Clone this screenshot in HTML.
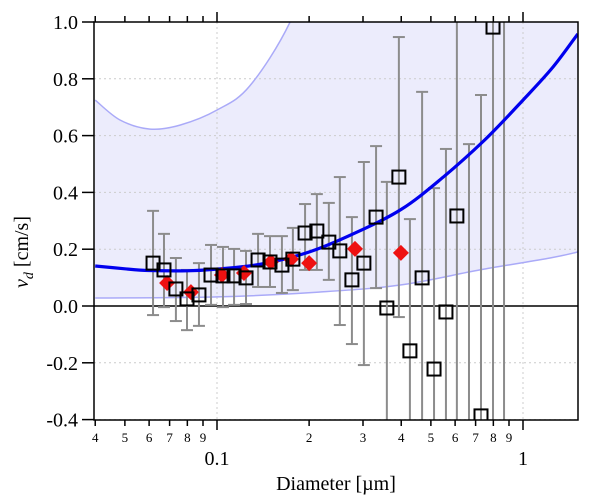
<!DOCTYPE html>
<html><head><meta charset="utf-8"><style>
html,body{margin:0;padding:0;background:#fff;}
svg{display:block;font-family:"Liberation Serif",serif;}
</style></head><body>
<svg id="chart" width="600" height="501" viewBox="0 0 600 501" xmlns="http://www.w3.org/2000/svg">
<defs><clipPath id="clip"><rect x="94" y="22" width="484" height="398"/></clipPath></defs>
<g id="plot" clip-path="url(#clip)"></g>
<g id="axes" font-family="Liberation Serif, serif"></g>
</svg>
<script>
// ---- data ----
const sqD = [0.0618,0.0671,0.0734,0.0798,0.0873,0.0956,0.1046,0.1137,0.1244,0.1362,0.149,0.163,0.177,0.194,0.212,0.232,0.252,0.276,0.302,0.331,0.359,0.393,0.427,0.468,0.512,0.560,0.608,0.666,0.729,0.798,0.867];
const sqV = [0.151,0.127,0.060,0.025,0.039,0.109,0.106,0.106,0.099,0.162,0.155,0.144,0.165,0.257,0.264,0.225,0.194,0.092,0.151,0.313,-0.007,0.454,-0.158,0.099,-0.222,-0.021,0.317,-0.5,-0.387,0.982,1.1];
const sqHi = [0.335,0.254,0.169,0.127,0.151,0.215,0.208,0.201,0.194,0.254,0.246,0.246,0.275,0.359,0.394,0.363,0.454,0.313,0.507,0.563,0.437,0.947,0.306,0.754,0.415,0.553,1.2,0.570,0.743,1.2,1.2];
const sqLo = [-0.032,-0.004,-0.053,-0.085,-0.070,0.004,-0.004,0.004,0.007,0.067,0.067,0.046,0.056,0.127,0.127,0.092,-0.067,-0.134,-0.208,0.063,-0.6,-0.039,-0.6,-0.6,-0.6,-0.6,-0.6,-0.6,-0.6,-0.6,-0.6];
const dmD = [0.0687,0.0822,0.1038,0.1225,0.150,0.1745,0.200,0.2825,0.399];
const dmV = [0.081,0.049,0.109,0.116,0.155,0.165,0.151,0.201,0.187];
const fitD = [0.04,0.05,0.06,0.08,0.1,0.14,0.2,0.28,0.4,0.55,0.75,1.0,1.25,1.51];
const fitV = [0.141,0.131,0.125,0.124,0.13,0.148,0.19,0.255,0.34,0.455,0.585,0.725,0.84,0.958];
const upD = [0.04,0.0482,0.0604,0.0757,0.1,0.128,0.1733,0.22,0.3];
const upV = [0.725,0.655,0.623,0.637,0.69,0.775,1.0,1.3,1.8];
const loD = [0.04,0.1,0.215,0.397,0.723,1.225,1.51];
const loV = [0.028,0.032,0.049,0.074,0.127,0.169,0.19];
const yTicks = [-0.4,-0.2,0.0,0.2,0.4,0.6,0.8,1.0];
const yTickLabels = ["-0.4","-0.2","0.0","0.2","0.4","0.6","0.8","1.0"];
const xMinor = [0.04,0.05,0.06,0.07,0.08,0.09,0.2,0.3,0.4,0.5,0.6,0.7,0.8,0.9];
const xMinorLabels = ["4","5","6","7","8","9","2","3","4","5","6","7","8","9"];
const xMajor = [0.1,1];
const xMajorLabels = ["0.1","1"];

// ---- scales ----
const X = d => 217 + 306*Math.log10(d/0.1);
const Y = v => 306 - 284*v;
const NS="http://www.w3.org/2000/svg";
const plot=document.getElementById('plot'), axes=document.getElementById('axes');
function mk(tag,attrs,parent){const e=document.createElementNS(NS,tag);for(const k in attrs)e.setAttribute(k,attrs[k]);parent.appendChild(e);return e;}
function smoothPath(ds,vs){const p=ds.map((d,i)=>[X(d),Y(vs[i])]);let s='M'+p[0][0].toFixed(1)+','+p[0][1].toFixed(1);for(let i=0;i<p.length-1;i++){const p0=p[Math.max(0,i-1)],p1=p[i],p2=p[i+1],p3=p[Math.min(p.length-1,i+2)];const c1=[p1[0]+(p2[0]-p0[0])/6,p1[1]+(p2[1]-p0[1])/6],c2=[p2[0]-(p3[0]-p1[0])/6,p2[1]-(p3[1]-p1[1])/6];s+='C'+c1[0].toFixed(1)+','+c1[1].toFixed(1)+' '+c2[0].toFixed(1)+','+c2[1].toFixed(1)+' '+p2[0].toFixed(1)+','+p2[1].toFixed(1);}return s;}

const upPath=smoothPath(upD,upV), loPath=smoothPath(loD,loV);
let e;
e=mk('path',{d:upPath+' L600,'+Y(upV[upV.length-1])+' L600,440 L94,440 Z',fill:'#ececfc',stroke:'none'},plot);


e=mk('path',{d:loPath+' L600,'+Y(loV[loV.length-1])+' L600,440 L94,440 Z',fill:'#fff'},plot);


// grid
yTicks.forEach(v=>{const g=mk('line',{x1:94,x2:578,y1:Y(v),y2:Y(v),stroke:'#ccc','stroke-dasharray':'2,3','stroke-width':1},plot);});
xMajor.forEach(d=>{const g=mk('line',{x1:X(d),x2:X(d),y1:22,y2:420,stroke:'#ccc','stroke-dasharray':'2,3','stroke-width':1},plot);});
// band lines
e=mk('path',{d:upPath,fill:'none',stroke:'#aaaaf8','stroke-width':1.5},plot);


e=mk('path',{d:loPath,fill:'none',stroke:'#aaaaf8','stroke-width':1.5},plot);


// zero line
e=mk('line',{x1:94,x2:578,y1:Y(0),y2:Y(0),stroke:'#000','stroke-width':1.5},plot);


// error bars
sqD.forEach((d,i)=>{const x=X(d);const g=mk('g',{stroke:'#8c8c8c','stroke-width':2},plot);


mk('line',{x1:x,x2:x,y1:Y(sqHi[i]),y2:Y(sqLo[i])},g);
mk('line',{x1:x-6,x2:x+6,y1:Y(sqHi[i]),y2:Y(sqHi[i])},g);
mk('line',{x1:x-6,x2:x+6,y1:Y(sqLo[i]),y2:Y(sqLo[i])},g);});
// fit curve
e=mk('path',{d:smoothPath(fitD,fitV),fill:'none',stroke:'#0000ee','stroke-width':3.2},plot);


// diamonds
dmD.forEach((d,i)=>{const x=X(d),y=Y(dmV[i]);const p=mk('path',{d:`M${x},${y-8} L${x+8},${y} L${x},${y+8} L${x-8},${y} Z`,fill:'#ee1111'},plot);

});
// squares
sqD.forEach((d,i)=>{const x=X(d),y=Y(sqV[i]);const r=mk('rect',{x:x-6.5,y:y-6.5,width:13,height:13,fill:'none',stroke:'#000','stroke-width':2},plot);

});

// frame & axes
e=mk('rect',{x:94,y:22,width:484,height:398,fill:'none',stroke:'#000','stroke-width':1.5},axes);


yTicks.forEach((v,i)=>{mk('line',{x1:82,x2:94,y1:Y(v),y2:Y(v),stroke:'#000','stroke-width':1.5},axes);
const t=mk('text',{x:78,y:Y(v)+7,'text-anchor':'end','font-size':20,fill:'#000','font-family':'Liberation Serif, serif'},axes);t.textContent=yTickLabels[i];

});
xMinor.forEach((d,i)=>{const x=X(d);mk('line',{x1:x,x2:x,y1:420,y2:426,stroke:'#000','stroke-width':1.5},axes);mk('line',{x1:x,x2:x,y1:22,y2:16,stroke:'#000','stroke-width':1.5},axes);
const t=mk('text',{x:x,y:442,'text-anchor':'middle','font-size':13,fill:'#000','font-family':'Liberation Serif, serif'},axes);t.textContent=xMinorLabels[i];

});
xMajor.forEach((d,i)=>{const x=X(d);mk('line',{x1:x,x2:x,y1:420,y2:430,stroke:'#000','stroke-width':1.5},axes);mk('line',{x1:x,x2:x,y1:22,y2:12,stroke:'#000','stroke-width':1.5},axes);
const t=mk('text',{x:x,y:465,'text-anchor':'middle','font-size':20,fill:'#000','font-family':'Liberation Serif, serif'},axes);t.textContent=xMajorLabels[i];

});
</script>
<svg style="position:absolute;left:0;top:0" width="600" height="501">
<text x="336" y="490" text-anchor="middle" font-size="20" font-family="Liberation Serif, serif">Diameter [µm]</text>
<text transform="translate(28,252) rotate(-90)" text-anchor="middle" font-size="20" font-family="Liberation Serif, serif"><tspan font-style="italic">v</tspan><tspan font-style="italic" font-size="14" dy="5">d</tspan><tspan dy="-5"> [cm/s]</tspan></text>
</svg>
</body></html>
